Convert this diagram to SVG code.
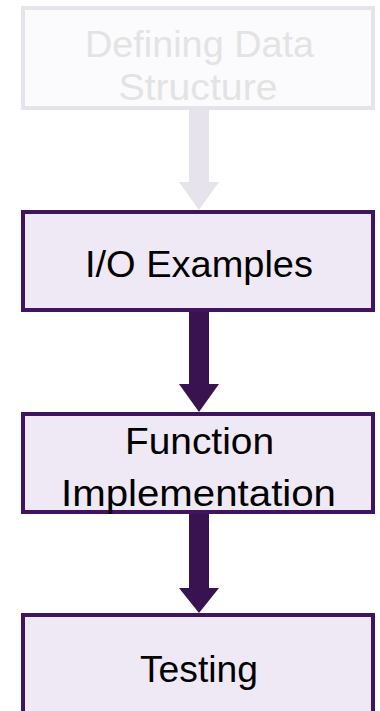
<svg xmlns="http://www.w3.org/2000/svg" width="380" height="711" viewBox="0 0 380 711">
<style>
.box{stroke-width:4}
.on{fill:#efe9f5;stroke:#40145f}
.off{fill:#fbfafd;stroke:#e6e3ed}
text{font-family:"Liberation Sans","Open Sans",sans-serif;font-size:36px;text-anchor:middle}
.t-on{fill:#000000}
.t-off{fill:#e3e3e3}
.a-on{fill:#38134f}
.a-off{fill:#e6e3ec}
</style>
<rect width="380" height="711" fill="#ffffff"/>
<g id="connectors">
<polygon class="a-off" points="189,110 209,110 209,182 219,182 199,210 179,182 189,182"/>
<polygon class="a-on" points="189,312 209,312 209,384 219,384 199,412 179,384 189,384"/>
<polygon class="a-on" points="189,514 209,514 209,588 219,588 199,613 179,588 189,588"/>
</g>
<g id="node-defining">
<rect class="box off" x="23" y="8" width="350" height="100"/>
<text class="t-off" x="199.5" y="57" textLength="229" lengthAdjust="spacingAndGlyphs">Defining Data</text>
<text class="t-off" x="198" y="100" textLength="159" lengthAdjust="spacingAndGlyphs">Structure</text>
</g>
<g id="node-io">
<rect class="box on" x="23" y="212" width="350" height="98"/>
<text class="t-on" x="199" y="277" textLength="228" lengthAdjust="spacingAndGlyphs">I/O Examples</text>
</g>
<g id="node-function">
<rect class="box on" x="23" y="414" width="350" height="98"/>
<text class="t-on" x="199.5" y="454" textLength="149" lengthAdjust="spacingAndGlyphs">Function</text>
<text class="t-on" x="198.5" y="506" textLength="275" lengthAdjust="spacingAndGlyphs">Implementation</text>
</g>
<g id="node-testing">
<rect class="box on" x="23" y="615" width="350" height="110"/>
<text class="t-on" x="199" y="682" textLength="118" lengthAdjust="spacingAndGlyphs">Testing</text>
</g>
</svg>
